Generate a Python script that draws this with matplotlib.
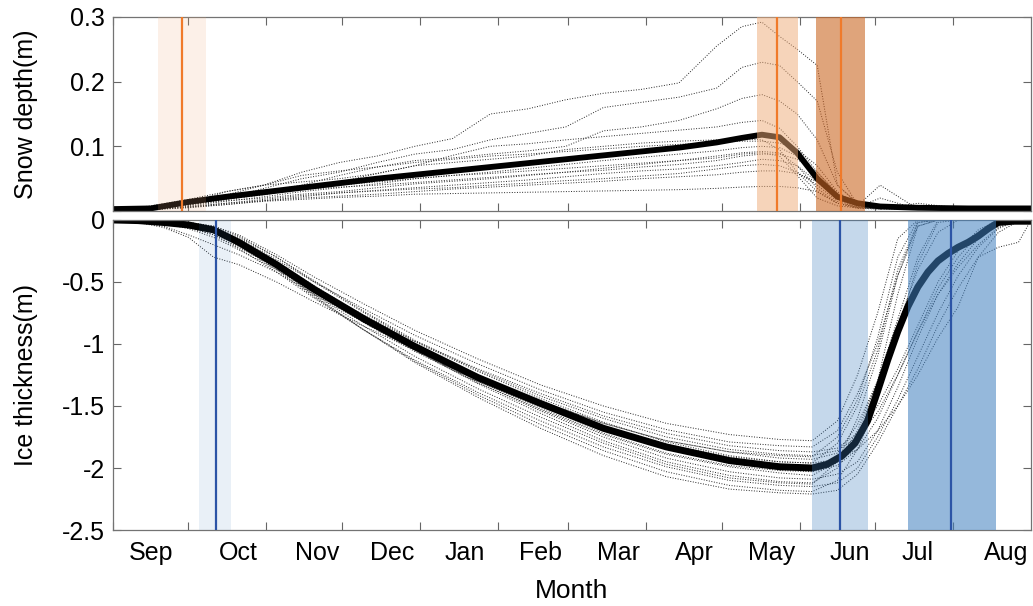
import matplotlib
matplotlib.use("Agg")
import matplotlib.pyplot as plt
import numpy as np

plt.rcParams["font.family"] = ["Liberation Sans", "DejaVu Sans"]

# days since 1 Sep
month_names = ["Sep", "Oct", "Nov", "Dec", "Jan", "Feb", "Mar", "Apr", "May", "Jun", "Jul", "Aug"]
month_start = [0, 30, 61, 91, 122, 153, 181, 212, 242, 273, 303, 334]
label_pos = [15, 50, 81, 111, 140, 170, 201, 231, 262, 293, 320, 355]

# ---- snow depth (m) ----
snow_days = [0, 15, 30, 45, 60, 75, 90, 105, 120, 135, 150, 165, 180, 195, 210, 225, 240,
             250, 258, 265, 272, 280, 288, 296, 305, 320, 340, 365]
snow_mean = [0.003, 0.004, 0.014, 0.022, 0.029, 0.036, 0.043, 0.05, 0.056, 0.062, 0.068, 0.074,
             0.08, 0.086, 0.092, 0.098, 0.106, 0.113, 0.118, 0.114, 0.09, 0.05, 0.022, 0.012,
             0.007, 0.005, 0.004, 0.004]
snow_runs = [
    [0, 0.005, 0.012, 0.03, 0.04, 0.06, 0.075, 0.085, 0.1, 0.112, 0.15, 0.158, 0.172, 0.182, 0.188, 0.198, 0.255, 0.285, 0.292, 0.27, 0.25, 0.225, 0.04, 0.012, 0.006, 0.003, 0.003, 0.003],
    [0, 0.004, 0.01, 0.02, 0.035, 0.05, 0.06, 0.075, 0.088, 0.095, 0.11, 0.12, 0.13, 0.16, 0.168, 0.176, 0.19, 0.222, 0.23, 0.225, 0.2, 0.17, 0.06, 0.01, 0.005, 0.003, 0.003, 0.003],
    [0, 0.004, 0.01, 0.02, 0.03, 0.04, 0.055, 0.068, 0.078, 0.082, 0.088, 0.093, 0.1, 0.124, 0.13, 0.14, 0.158, 0.174, 0.18, 0.17, 0.15, 0.11, 0.04, 0.012, 0.006, 0.004, 0.004, 0.004],
    [0.002, 0.004, 0.01, 0.018, 0.025, 0.035, 0.045, 0.058, 0.07, 0.086, 0.1, 0.104, 0.11, 0.115, 0.12, 0.125, 0.13, 0.137, 0.14, 0.128, 0.1, 0.06, 0.028, 0.01, 0.006, 0.005, 0.004, 0.004],
    [0, 0.006, 0.015, 0.025, 0.04, 0.045, 0.05, 0.058, 0.07, 0.075, 0.08, 0.085, 0.095, 0.1, 0.105, 0.108, 0.11, 0.112, 0.11, 0.095, 0.06, 0.03, 0.012, 0.006, 0.02, 0.003, 0.003, 0.003],
    [0, 0.003, 0.008, 0.015, 0.022, 0.03, 0.036, 0.042, 0.05, 0.055, 0.06, 0.066, 0.072, 0.078, 0.083, 0.088, 0.093, 0.098, 0.1, 0.098, 0.085, 0.05, 0.02, 0.008, 0.005, 0.003, 0.003, 0.003],
    [0, 0.004, 0.01, 0.016, 0.02, 0.026, 0.03, 0.036, 0.042, 0.046, 0.05, 0.055, 0.06, 0.066, 0.072, 0.078, 0.085, 0.09, 0.092, 0.09, 0.07, 0.035, 0.012, 0.006, 0.004, 0.003, 0.003, 0.003],
    [0, 0.005, 0.012, 0.02, 0.028, 0.033, 0.037, 0.04, 0.044, 0.048, 0.052, 0.056, 0.06, 0.063, 0.068, 0.072, 0.078, 0.085, 0.088, 0.088, 0.08, 0.06, 0.025, 0.008, 0.04, 0.003, 0.003, 0.003],
    [0, 0.003, 0.006, 0.01, 0.016, 0.022, 0.028, 0.032, 0.036, 0.04, 0.044, 0.048, 0.053, 0.058, 0.062, 0.065, 0.07, 0.075, 0.08, 0.078, 0.07, 0.045, 0.018, 0.006, 0.004, 0.003, 0.003, 0.003],
    [0, 0.002, 0.006, 0.012, 0.018, 0.024, 0.028, 0.031, 0.034, 0.036, 0.04, 0.043, 0.047, 0.05, 0.054, 0.058, 0.065, 0.07, 0.072, 0.07, 0.06, 0.04, 0.015, 0.005, 0.003, 0.012, 0.003, 0.003],
    [0, 0.003, 0.007, 0.012, 0.016, 0.02, 0.023, 0.026, 0.03, 0.034, 0.037, 0.04, 0.043, 0.046, 0.05, 0.053, 0.056, 0.06, 0.062, 0.062, 0.058, 0.045, 0.02, 0.006, 0.004, 0.003, 0.003, 0.003],
    [0, 0.002, 0.005, 0.01, 0.015, 0.018, 0.021, 0.023, 0.026, 0.027, 0.028, 0.029, 0.03, 0.031, 0.032, 0.033, 0.035, 0.037, 0.038, 0.038, 0.036, 0.03, 0.012, 0.004, 0.003, 0.003, 0.003, 0.003],
    [0, 0.008, 0.018, 0.03, 0.04, 0.055, 0.062, 0.068, 0.075, 0.08, 0.085, 0.088, 0.092, 0.096, 0.1, 0.103, 0.106, 0.108, 0.108, 0.105, 0.095, 0.07, 0.03, 0.01, 0.005, 0.003, 0.003, 0.003],
    [0, 0.004, 0.01, 0.018, 0.026, 0.034, 0.04, 0.045, 0.05, 0.055, 0.058, 0.062, 0.066, 0.07, 0.074, 0.078, 0.082, 0.088, 0.09, 0.085, 0.055, 0.02, 0.008, 0.005, 0.004, 0.003, 0.003, 0.003],
]

# ---- ice thickness (m, negative down) ----
ice_mean_days = [0, 10, 20, 30, 40, 50, 65, 80, 100, 120, 145, 170, 195, 220, 245, 265, 278,
                 284, 290, 295, 300, 304, 308, 312, 316, 320, 324, 328, 332, 336, 340, 344,
                 348, 352, 358, 365]
ice_mean = [0, -0.005, -0.02, -0.04, -0.08, -0.18, -0.36, -0.56, -0.8, -1.02, -1.27, -1.48,
            -1.68, -1.83, -1.94, -1.99, -2.0, -1.97, -1.9, -1.8, -1.62, -1.38, -1.13, -0.9,
            -0.7, -0.54, -0.42, -0.33, -0.27, -0.22, -0.18, -0.13, -0.07, -0.02, -0.01, -0.01]

ice_days = [0, 10, 20, 30, 40, 50, 65, 80, 100, 120, 145, 170, 195, 220, 245, 265, 278,
            288, 296, 304, 312, 320, 328, 336, 344, 352, 360, 365]
ice_runs = [
    [0, 0, -0.01, -0.02, -0.05, -0.12, -0.28, -0.46, -0.68, -0.89, -1.12, -1.33, -1.5, -1.64, -1.73, -1.77, -1.78, -1.62, -1.25, -0.75, -0.15, 0, 0, 0, 0, 0, 0, 0],
    [0, -0.01, -0.02, -0.04, -0.07, -0.15, -0.32, -0.5, -0.72, -0.93, -1.16, -1.37, -1.55, -1.69, -1.79, -1.82, -1.83, -1.7, -1.4, -1.0, -0.45, -0.05, 0, 0, 0, 0, 0, 0],
    [0, -0.01, -0.03, -0.06, -0.12, -0.22, -0.38, -0.55, -0.77, -0.98, -1.2, -1.4, -1.58, -1.72, -1.82, -1.86, -1.87, -1.84, -1.72, -1.5, -1.2, -0.85, -0.5, -0.25, -0.08, 0, 0, 0],
    [0, -0.02, -0.06, -0.14, -0.3, -0.36, -0.5, -0.66, -0.86, -1.05, -1.26, -1.46, -1.64, -1.78, -1.87, -1.9, -1.91, -1.75, -1.45, -0.95, -0.3, 0, 0, 0, 0, 0, 0, 0],
    [0, -0.02, -0.05, -0.12, -0.2, -0.28, -0.42, -0.6, -0.83, -1.05, -1.3, -1.52, -1.72, -1.88, -1.98, -2.02, -2.03, -1.98, -1.85, -1.6, -1.25, -0.9, -0.55, -0.3, -0.12, -0.02, 0, 0],
    [0, 0, -0.01, -0.03, -0.06, -0.14, -0.3, -0.5, -0.75, -0.98, -1.22, -1.44, -1.63, -1.79, -1.9, -1.95, -1.96, -1.8, -1.5, -1.05, -0.4, -0.02, 0, 0, 0, 0, 0, 0],
    [0, -0.01, -0.02, -0.05, -0.1, -0.2, -0.38, -0.58, -0.83, -1.06, -1.31, -1.53, -1.73, -1.89, -1.99, -2.04, -2.06, -1.95, -1.7, -1.3, -0.8, -0.3, 0, 0, 0, 0, 0, 0],
    [0, -0.01, -0.02, -0.04, -0.09, -0.19, -0.37, -0.57, -0.82, -1.05, -1.31, -1.54, -1.75, -1.92, -2.03, -2.08, -2.09, -2.05, -1.95, -1.7, -1.35, -0.95, -0.6, -0.35, -0.15, -0.03, 0, 0],
    [0, 0, -0.01, -0.03, -0.07, -0.16, -0.34, -0.55, -0.81, -1.05, -1.32, -1.56, -1.78, -1.95, -2.06, -2.11, -2.12, -2.0, -1.75, -1.3, -0.6, -0.05, 0, 0, 0, 0, 0, 0],
    [0, -0.01, -0.03, -0.06, -0.12, -0.23, -0.42, -0.63, -0.89, -1.13, -1.39, -1.62, -1.83, -1.99, -2.1, -2.14, -2.15, -2.12, -2.0, -1.75, -1.45, -1.1, -0.75, -0.45, -0.22, -0.07, 0, 0],
    [0, -0.01, -0.02, -0.05, -0.1, -0.21, -0.4, -0.62, -0.89, -1.14, -1.41, -1.65, -1.86, -2.03, -2.14, -2.18, -2.19, -2.1, -1.85, -1.45, -0.9, -0.35, -0.02, 0, 0, 0, 0, 0],
    [0, 0, -0.01, -0.03, -0.08, -0.18, -0.38, -0.61, -0.89, -1.15, -1.43, -1.68, -1.9, -2.07, -2.17, -2.2, -2.21, -2.18, -2.05, -1.8, -1.5, -1.2, -0.85, -0.55, -0.3, -0.1, -0.01, 0],
    [0, -0.01, -0.02, -0.04, -0.08, -0.17, -0.34, -0.53, -0.78, -1.0, -1.25, -1.47, -1.66, -1.81, -1.91, -1.95, -1.96, -1.93, -1.85, -1.7, -1.5, -1.25, -0.95, -0.7, -0.3, -0.22, -0.18, 0],
    [0, -0.01, -0.03, -0.07, -0.14, -0.24, -0.4, -0.58, -0.81, -1.02, -1.25, -1.46, -1.64, -1.78, -1.87, -1.92, -1.93, -1.88, -1.65, -1.3, -0.85, -0.4, -0.1, 0, 0, 0, 0, 0],
    [0, 0, -0.01, -0.02, -0.05, -0.13, -0.3, -0.49, -0.74, -0.97, -1.21, -1.42, -1.6, -1.75, -1.85, -1.89, -1.9, -1.86, -1.75, -1.55, -1.25, -0.9, -0.6, -0.38, -0.2, -0.06, 0, 0],
    [0, -0.01, -0.02, -0.04, -0.09, -0.2, -0.39, -0.6, -0.86, -1.1, -1.36, -1.59, -1.8, -1.97, -2.08, -2.12, -2.13, -1.95, -1.6, -1.1, -0.45, -0.02, 0, 0, 0, 0, 0, 0],
]

# shaded periods (start, end, marker line), days since 1 Sep
snow_span_start = [17.7, 256, 279.6]
snow_span_end = [37.0, 272.3, 299]
snow_span_line = [27.6, 264, 289.6]
snow_span_color = ["#efab77", "#efab77", "#cb6724"]
snow_span_alpha = [0.17, 0.5, 0.6]

ice_span_start = [34, 278, 316]
ice_span_end = [47, 300, 351]
ice_span_line = [40.8, 289, 333]
ice_span_alpha = [0.11, 0.3, 0.55]


fig = plt.figure(figsize=(10.33, 6.06), dpi=100)
ax1 = fig.add_axes([0.1094, 0.6518, 0.8887, 0.3202])
ax2 = fig.add_axes([0.1094, 0.1254, 0.8887, 0.5116])

for run in snow_runs:
    ax1.plot(snow_days, run, color="0.15", lw=0.7, ls=":")
ax1.plot(snow_days, snow_mean, color="k", lw=4.2, solid_capstyle="butt")
for i in range(3):
    ax1.axvspan(snow_span_start[i], snow_span_end[i], color=snow_span_color[i],
                alpha=snow_span_alpha[i], lw=0, zorder=3)
    ax1.axvline(snow_span_line[i], color="#f07a2a", lw=1.6, zorder=4)

for run in ice_runs:
    ax2.plot(ice_days, run, color="0.15", lw=0.7, ls=":")
ax2.plot(ice_mean_days, ice_mean, color="k", lw=5, solid_capstyle="butt",
         solid_joinstyle="round")
for i in range(3):
    ax2.axvspan(ice_span_start[i], ice_span_end[i], color="#3f7fbf",
                alpha=ice_span_alpha[i], lw=0, zorder=3)
    ax2.axvline(ice_span_line[i], color="#2c54a6", lw=1.6, zorder=4)

for ax in (ax1, ax2):
    ax.set_xlim(0, 365)
    ax.set_xticks(month_start)
    ax.set_xticklabels([])
    ax.tick_params(which="both", direction="in", top=True, right=True,
                   length=6, width=0.8, color="0.4", labelsize=18, pad=6)
    for s in ax.spines.values():
        s.set_color("0.45")
        s.set_linewidth(0.9)

# the two "0" labels coincide in the reference; one is drawn
ax1.set_ylim(0, 0.3)
ax1.set_yticks([0, 0.1, 0.2, 0.3])
ax1.set_yticklabels(["", "0.1", "0.2", "0.3"])
ax1.set_ylabel("Snow depth(m)", fontsize=18)

ax2.set_ylim(-2.5, 0)
ax2.set_yticks([-2.5, -2, -1.5, -1, -0.5, 0])
ax2.set_yticklabels(["-2.5", "-2", "-1.5", "-1", "-0.5", "0"])
ax2.set_ylabel("Ice thickness(m)", fontsize=18)
ax2.set_xticks(label_pos, minor=True)
ax2.set_xticklabels(month_names, minor=True)
ax2.tick_params(which="minor", length=0, pad=8)
ax2.set_xlabel("Month", fontsize=19, labelpad=10)

ax1.yaxis.set_label_coords(-0.082, 0.5)
ax2.yaxis.set_label_coords(-0.082, 0.5)

fig.savefig("out.png", dpi=100)
